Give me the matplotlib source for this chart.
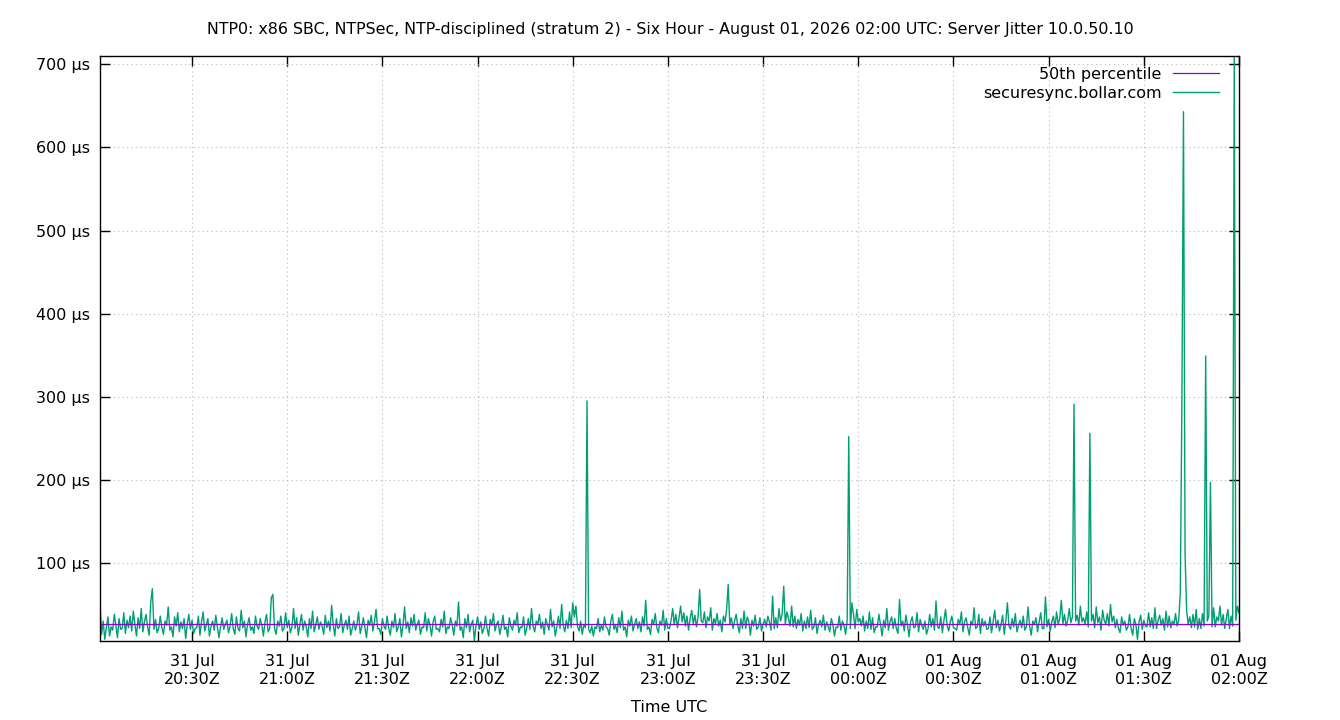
import numpy as np
import matplotlib
matplotlib.use("Agg")
import matplotlib.pyplot as plt
import matplotlib.dates as mdates
from matplotlib.ticker import FuncFormatter, FixedLocator

title = ("NTP0: x86 SBC, NTPSec, NTP-disciplined (stratum 2) - Six Hour - "
         "August 01, 2026 02:00 UTC: Server Jitter 10.0.50.10")
x_label = "Time UTC"
series_label = "securesync.bollar.com"
median_label = "50th percentile"
start_time = np.datetime64("2026-07-31T20:01:00")
step_seconds = 30
y_ticks = [100, 200, 300, 400, 500, 600, 700]

# server jitter in microseconds, one sample every 30 s from 20:01Z to 02:00Z
jitter_us = [
    50, 14, 30, 8, 22, 35, 12, 23, 19, 38, 25, 10, 33, 20, 21, 40, 15, 31, 22, 36,
    18, 42, 26, 12, 34, 21, 45, 17, 29, 38, 23, 13, 53, 69, 20, 32, 16, 21, 36, 22,
    14, 30, 25, 47, 19, 23, 11, 35, 24, 40, 17, 29, 21, 33, 9, 26, 38, 20, 31, 15,
    21, 22, 36, 13, 29, 41, 18, 25, 33, 12, 24, 30, 19, 37, 23, 10, 23, 34, 20, 26,
    31, 16, 24, 39, 21, 14, 35, 21, 18, 43, 22, 30, 11, 26, 34, 19, 23, 15, 36, 24,
    20, 33, 25, 12, 29, 38, 17, 21, 58, 62, 21, 14, 30, 24, 36, 18, 21, 40, 22, 31,
    16, 23, 45, 21, 34, 13, 26, 38, 19, 30, 23, 11, 33, 21, 42, 17, 25, 35, 20, 29,
    24, 14, 37, 22, 30, 18, 49, 26, 12, 33, 21, 23, 39, 16, 25, 31, 20, 36, 13, 21,
    30, 19, 26, 41, 15, 23, 34, 22, 10, 31, 25, 37, 18, 29, 44, 21, 21, 14, 33, 24,
    20, 36, 21, 13, 30, 22, 39, 17, 23, 33, 11, 25, 47, 21, 29, 16, 34, 24, 38, 19,
    26, 31, 14, 23, 22, 40, 18, 33, 25, 12, 29, 36, 20, 21, 17, 32, 23, 42, 15, 23,
    21, 34, 26, 13, 30, 24, 53, 19, 23, 10, 33, 22, 38, 17, 26, 31, 6, 24, 35, 20,
    29, 15, 21, 36, 21, 12, 32, 25, 39, 18, 26, 30, 14, 23, 37, 20, 23, 11, 34, 24,
    19, 31, 25, 40, 16, 23, 22, 35, 13, 21, 33, 20, 45, 24, 17, 30, 26, 38, 21, 29,
    14, 33, 26, 19, 44, 23, 30, 12, 23, 36, 21, 50, 25, 17, 31, 21, 41, 22, 52, 35,
    48, 24, 18, 30, 14, 26, 22, 295, 20, 16, 24, 12, 23, 21, 33, 17, 25, 19, 35, 23,
    21, 13, 30, 38, 20, 25, 16, 34, 22, 42, 19, 23, 11, 31, 24, 36, 18, 26, 33, 21,
    29, 17, 35, 24, 55, 20, 23, 14, 32, 26, 39, 22, 16, 30, 25, 43, 19, 33, 21, 21,
    31, 45, 26, 38, 22, 34, 48, 29, 40, 24, 36, 19, 33, 43, 27, 37, 23, 35, 68, 30,
    28, 41, 22, 35, 30, 46, 19, 33, 27, 39, 24, 31, 17, 36, 29, 44, 74, 26, 34, 21,
    30, 38, 25, 16, 33, 21, 42, 21, 35, 29, 13, 31, 24, 37, 20, 23, 34, 18, 26, 32,
    23, 36, 29, 19, 60, 21, 34, 22, 45, 30, 38, 72, 26, 41, 33, 24, 48, 23, 36, 21,
    32, 25, 39, 18, 30, 21, 35, 22, 43, 20, 23, 34, 15, 26, 31, 23, 37, 19, 29, 24,
    17, 33, 26, 12, 23, 22, 36, 19, 30, 25, 14, 31, 252, 21, 52, 38, 21, 44, 29, 33,
    24, 36, 18, 30, 21, 41, 20, 34, 16, 23, 23, 38, 26, 12, 31, 22, 45, 19, 29, 35,
    21, 33, 21, 15, 56, 24, 30, 18, 37, 26, 11, 29, 35, 22, 23, 40, 17, 32, 25, 20,
    30, 14, 21, 38, 23, 33, 19, 54, 23, 21, 35, 16, 31, 44, 25, 18, 29, 36, 22, 21,
    19, 32, 26, 41, 17, 29, 34, 22, 13, 30, 25, 46, 21, 23, 38, 15, 33, 24, 30, 20,
    21, 35, 16, 29, 43, 22, 31, 18, 26, 37, 14, 30, 52, 24, 20, 33, 23, 39, 17, 25,
    31, 22, 36, 19, 23, 47, 24, 13, 30, 26, 34, 17, 29, 40, 21, 21, 59, 23, 32, 18,
    29, 36, 22, 41, 26, 33, 55, 27, 38, 24, 31, 45, 28, 35, 291, 30, 37, 25, 48, 29,
    34, 26, 41, 23, 256, 30, 38, 22, 47, 28, 35, 19, 43, 31, 26, 39, 24, 50, 29, 36,
    22, 32, 21, 16, 35, 25, 30, 19, 23, 38, 21, 13, 33, 26, 8, 29, 37, 20, 31, 24,
    23, 40, 23, 34, 21, 46, 21, 31, 37, 25, 33, 19, 42, 23, 36, 22, 30, 26, 39, 24,
    31, 65, 293, 643, 110, 42, 26, 35, 22, 38, 23, 44, 20, 33, 21, 39, 24, 349, 30, 36,
    197, 23, 46, 23, 35, 30, 48, 25, 38, 21, 33, 44, 21, 36, 24, 710, 31, 48, 40,
]

green = "#009e73"
purple = "#9400d3"

jitter = np.array(jitter_us, dtype=float)
times = start_time + np.arange(len(jitter)) * np.timedelta64(step_seconds, "s")
times = times.astype("datetime64[ms]").astype(object)
median = np.percentile(jitter, 50)

plt.rcParams["font.family"] = ["DejaVu Sans"]
plt.rcParams["font.size"] = 11.5

fig = plt.figure(figsize=(13.4, 7.2), dpi=100)
ax = fig.add_axes([100 / 1340, 1 - 641 / 720, (1239 - 100) / 1340, (641 - 56) / 720])

ax.plot(times, [median] * len(times), color=purple, lw=0.9, label=median_label, zorder=3)
ax.plot(times, jitter, color=green, lw=1.0, label=series_label, zorder=2)

ax.set_xlim(times[0], times[-1])
ax.set_ylim(jitter.min(), jitter.max())

ax.yaxis.set_major_locator(FixedLocator(y_ticks))
ax.yaxis.set_major_formatter(FuncFormatter(lambda v, p: f"{v:.0f} µs"))
ax.xaxis.set_major_locator(mdates.MinuteLocator(byminute=[0, 30]))
ax.xaxis.set_major_formatter(mdates.DateFormatter("%d %b\n%H:%MZ"))

ax.tick_params(axis="both", direction="in", length=7, width=1, top=True, right=True,
               labelsize=11.5)
ax.tick_params(axis="x", pad=9.5)
ax.tick_params(axis="y", pad=7)
for lbl in ax.get_xticklabels():
    lbl.set_horizontalalignment("center")
    lbl.set_multialignment("center")

ax.grid(True, color="#b8b8b8", linestyle=(0, (1, 3)), linewidth=0.8)
for s in ax.spines.values():
    s.set_linewidth(1)
    s.set_color("black")
    s.set_zorder(4)

ax.set_xlabel(x_label, fontsize=11.5, labelpad=10)
fig.suptitle(title, fontsize=11.45, y=1 - 29.5 / 720, va="center")

leg = ax.legend(loc="upper right", frameon=False, markerfirst=False,
                handlelength=2.9, handletextpad=0.7, labelspacing=0.24,
                borderaxespad=0, bbox_to_anchor=(1 - 13.6 / 1139, 1 - 4.4 / 585),
                fontsize=11.5)

fig.savefig("out.png", dpi=100)
